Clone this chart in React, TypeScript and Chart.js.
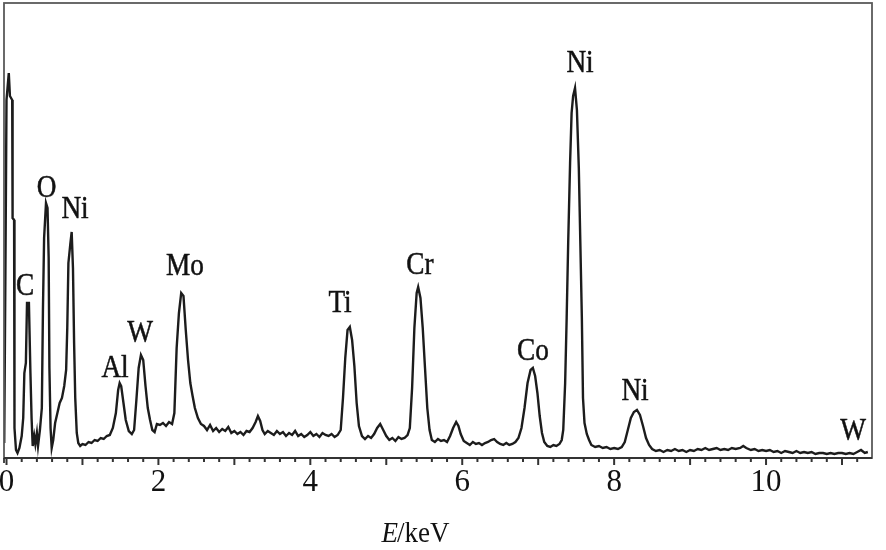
import React, { useEffect, useRef } from "react";
import { Chart, registerables } from "chart.js";

Chart.register(...registerables);

// Spectrum (energy in keV, counts in arbitrary units)
const energyKeV = [
  -0.03, -0.015, 0.0, 0.03, 0.045, 0.075, 0.08, 0.1, 0.105, 0.125, 0.145, 0.17, 0.2, 0.22, 0.235, 0.255,
  0.27, 0.295, 0.315, 0.33, 0.345, 0.365, 0.38, 0.4, 0.415, 0.44, 0.465, 0.48, 0.495, 0.52, 0.54, 0.555,
  0.565, 0.58, 0.595, 0.615, 0.64, 0.67, 0.7, 0.73, 0.76, 0.785, 0.8, 0.815, 0.84, 0.858, 0.875, 0.89,
  0.905, 0.925, 0.945, 0.97, 1.0, 1.04, 1.08, 1.12, 1.16, 1.2, 1.24, 1.28, 1.32, 1.36, 1.4, 1.44,
  1.47, 1.49, 1.51, 1.54, 1.57, 1.61, 1.65, 1.68, 1.71, 1.74, 1.77, 1.8, 1.83, 1.86, 1.89, 1.92,
  1.95, 1.98, 2.02, 2.06, 2.1, 2.14, 2.18, 2.21, 2.24, 2.27, 2.3, 2.33, 2.36, 2.39, 2.42, 2.45,
  2.48, 2.52, 2.56, 2.6, 2.64, 2.68, 2.72, 2.76, 2.8, 2.84, 2.88, 2.92, 2.96, 3.0, 3.04, 3.08,
  3.12, 3.16, 3.2, 3.24, 3.28, 3.31, 3.34, 3.37, 3.4, 3.44, 3.48, 3.52, 3.56, 3.6, 3.64, 3.68,
  3.72, 3.76, 3.8, 3.84, 3.88, 3.92, 3.96, 4.0, 4.04, 4.08, 4.12, 4.16, 4.2, 4.24, 4.28, 4.32,
  4.36, 4.4, 4.43, 4.46, 4.49, 4.52, 4.55, 4.58, 4.61, 4.64, 4.68, 4.72, 4.76, 4.8, 4.84, 4.88,
  4.92, 4.96, 5.0, 5.04, 5.08, 5.12, 5.16, 5.2, 5.24, 5.28, 5.31, 5.34, 5.37, 5.4, 5.42, 5.45,
  5.48, 5.51, 5.54, 5.57, 5.6, 5.64, 5.68, 5.72, 5.76, 5.8, 5.84, 5.88, 5.92, 5.95, 5.98, 6.02,
  6.06, 6.1, 6.14, 6.18, 6.22, 6.26, 6.3, 6.34, 6.38, 6.42, 6.46, 6.5, 6.54, 6.58, 6.62, 6.66,
  6.7, 6.74, 6.78, 6.82, 6.86, 6.9, 6.93, 6.96, 6.99, 7.02, 7.05, 7.08, 7.12, 7.16, 7.2, 7.24,
  7.28, 7.31, 7.33, 7.355, 7.375, 7.395, 7.42, 7.44, 7.46, 7.485, 7.51, 7.535, 7.555, 7.575, 7.59, 7.61,
  7.64, 7.67, 7.7, 7.75, 7.8, 7.85, 7.9, 7.95, 8.0, 8.05, 8.1, 8.14, 8.18, 8.22, 8.26, 8.3,
  8.34, 8.38, 8.42, 8.46, 8.5, 8.55, 8.6, 8.65, 8.7, 8.75, 8.8, 8.85, 8.9, 8.95, 9.0, 9.05,
  9.1, 9.15, 9.2, 9.25, 9.3, 9.35, 9.4, 9.45, 9.5, 9.55, 9.6, 9.66, 9.7, 9.74, 9.8, 9.85,
  9.9, 9.95, 10.0, 10.05, 10.1, 10.15, 10.2, 10.25, 10.3, 10.35, 10.4, 10.45, 10.5, 10.55, 10.6, 10.65,
  10.7, 10.75, 10.8, 10.85, 10.9, 10.95, 11.0, 11.05, 11.1, 11.15, 11.2, 11.25, 11.3, 11.34,
];

const counts = [
  15, 180, 358, 385, 362, 358, 240, 238, 30, 8, 5, 10, 22, 40, 85, 95,
  155, 155, 85, 40, 12, 22, 14, 25, 12, 28, 50, 150, 220, 255, 250, 200,
  90, 30, 10, 18, 35, 45, 55, 60, 72, 88, 130, 195, 214, 226, 190, 115,
  60, 25, 15, 12, 14, 13, 16, 15, 18, 17, 20, 19, 22, 23, 30, 45,
  68, 75, 72, 55, 38, 27, 24, 28, 58, 90, 103, 98, 72, 50, 38, 28,
  26, 34, 33, 35, 32, 36, 34, 45, 110, 145, 165, 162, 128, 98, 75, 62,
  50, 40, 34, 32, 28, 33, 27, 30, 26, 29, 27, 31, 25, 27, 24, 26,
  23, 27, 26, 30, 36, 42, 37, 28, 24, 27, 25, 23, 27, 24, 26, 22,
  25, 23, 27, 22, 24, 21, 23, 26, 22, 24, 21, 25, 23, 22, 24, 21,
  23, 28, 60, 100, 128, 131, 118, 92, 55, 32, 22, 19, 22, 20, 24, 30,
  34, 28, 22, 18, 20, 17, 21, 19, 20, 23, 30, 70, 130, 165, 171, 160,
  130, 90, 50, 28, 18, 16, 19, 17, 18, 16, 22, 30, 36, 32, 24, 17,
  15, 13, 16, 14, 15, 13, 15, 16, 18, 19, 16, 14, 13, 15, 13, 14,
  16, 20, 30, 50, 75, 88, 90, 82, 65, 42, 25, 16, 12, 11, 13, 12,
  14, 18, 28, 75, 140, 215, 295, 345, 362, 370, 348, 290, 215, 140, 60, 35,
  24, 18, 13, 11, 12, 10, 11, 9, 10, 9, 11, 16, 28, 40, 46, 48,
  43, 32, 20, 13, 9, 7, 8, 6, 8, 7, 9, 7, 8, 6, 8, 7,
  9, 8, 10, 8, 9, 10, 8, 9, 8, 10, 9, 10, 12, 10, 8, 9,
  7, 8, 7, 8, 6, 7, 5, 7, 6, 5, 7, 5, 6, 5, 6, 4,
  5, 5, 4, 5, 4, 5, 5, 4, 5, 4, 6, 8, 5, 6,
];

// Peak annotations: element, energy of the label (keV) and height of its baseline (counts)
const peakNames = ["C", "O", "Ni", "Al", "W", "Mo", "Ti", "Cr", "Co", "Ni", "Ni", "W"];
const peakLabelKeV = [0.244, 0.529, 0.902, 1.429, 1.758, 2.35, 4.391, 5.444, 6.932, 7.551, 8.275, 11.146];
const peakLabelCounts = [163, 261, 240, 81, 116, 183, 146, 184, 98, 386, 58, 18];

// Axis
const axisLabelKeV = [0, 2, 4, 6, 8, 10];
const minorTickStepKeV = 0.2;
const axisTitleMain = "E";
const axisTitleUnit = "/keV";
const axisTitleKeV = 5.39;

const xMin = -0.033;
const xMax = 11.395;
const yMax = 455;

export default function App() {
  const ref = useRef<HTMLCanvasElement>(null);

  useEffect(() => {
    const canvas = ref.current;
    if (!canvas) return;
    const serif = "'Liberation Serif', 'DejaVu Serif', serif";

    const decor = {
      id: "decor",
      afterDraw(chart: any) {
        const { ctx, chartArea: a, scales } = chart;
        const xs = scales.x;
        const ys = scales.y;
        ctx.save();
        // frame
        ctx.strokeStyle = "#5a5a5a";
        ctx.lineWidth = 1.8;
        ctx.strokeRect(a.left, a.top, a.right - a.left, a.bottom - a.top);
        // bottom axis line
        ctx.strokeStyle = "#333";
        ctx.lineWidth = 1.8;
        ctx.beginPath();
        ctx.moveTo(a.left, a.bottom);
        ctx.lineTo(a.right, a.bottom);
        ctx.stroke();
        // left edge extends below the axis
        ctx.beginPath();
        ctx.moveTo(a.left, a.bottom);
        ctx.lineTo(a.left, a.bottom + 5);
        ctx.stroke();
        // ticks
        ctx.lineWidth = 2;
        for (let i = 0; i * minorTickStepKeV <= xs.max + 1e-9; i++) {
          const v = i * minorTickStepKeV;
          const major = i % 5 === 0;
          const px = xs.getPixelForValue(v);
          ctx.beginPath();
          ctx.moveTo(px, a.bottom);
          ctx.lineTo(px, a.bottom + (major ? 7 : 4));
          ctx.stroke();
        }
        // peak labels
        ctx.fillStyle = "#111";
        ctx.strokeStyle = "#111";
        ctx.lineWidth = 0.5;
        ctx.font = `31px ${serif}`;
        ctx.textAlign = "center";
        ctx.textBaseline = "alphabetic";
        peakNames.forEach((name, i) => {
          const px = xs.getPixelForValue(peakLabelKeV[i]);
          const py = ys.getPixelForValue(peakLabelCounts[i]);
          ctx.save();
          ctx.translate(px, py);
          ctx.scale(0.88, 1);
          ctx.fillText(name, 0, 0);
          ctx.strokeText(name, 0, 0);
          ctx.restore();
        });
        // axis title: italic E + /keV
        const cx = xs.getPixelForValue(axisTitleKeV);
        const by = a.bottom + 84;
        ctx.textAlign = "left";
        ctx.font = `italic 30px ${serif}`;
        const w1 = ctx.measureText(axisTitleMain).width;
        ctx.font = `30px ${serif}`;
        const w2 = ctx.measureText(axisTitleUnit).width;
        const sx = 0.9;
        const total = (w1 + w2) * sx;
        ctx.save();
        ctx.translate(cx - total / 2, by);
        ctx.scale(sx, 1);
        ctx.font = `italic 30px ${serif}`;
        ctx.fillText(axisTitleMain, 0, 0);
        ctx.font = `30px ${serif}`;
        ctx.fillText(axisTitleUnit, w1 - 1, 0);
        ctx.restore();
        ctx.restore();
      },
    };

    const chart = new Chart(canvas, {
      type: "line",
      data: {
        datasets: [
          {
            data: energyKeV.map((e, i) => ({ x: e, y: counts[i] })),
            borderColor: "#1c1c1c",
            borderWidth: 2.4,
            pointRadius: 0,
            tension: 0,
            fill: false,
          },
        ],
      },
      options: {
        responsive: false,
        animation: false,
        devicePixelRatio: 1,
        layout: { padding: { left: 4, top: 3, right: 14, bottom: 0 } },
        plugins: { legend: { display: false }, tooltip: { enabled: false }, title: { display: false } },
        scales: {
          x: {
            type: "linear",
            min: xMin,
            max: xMax,
            afterBuildTicks: (s: any) => {
              s.ticks = axisLabelKeV.map((v) => ({ value: v }));
            },
            afterFit: (s: any) => {
              s.height = 92;
              s.paddingLeft = 0;
              s.paddingRight = 0;
            },
            grid: { display: false, drawTicks: false },
            border: { display: false },
            ticks: {
              autoSkip: false,
              maxRotation: 0,
              minRotation: 0,
              padding: 6,
              color: "#111",
              font: { family: serif, size: 31 },
              callback: (v: any) => String(v),
            },
          },
          y: { type: "linear", min: 0, max: yMax, display: false },
        },
      },
      plugins: [decor],
    });
    return () => chart.destroy();
  }, []);

  return (
    <div style={{ position: "absolute", left: 0, top: 0, width: 886, height: 550, background: "#fff" }}>
      <canvas ref={ref} width={886} height={550} style={{ display: "block" }} />
    </div>
  );
}
